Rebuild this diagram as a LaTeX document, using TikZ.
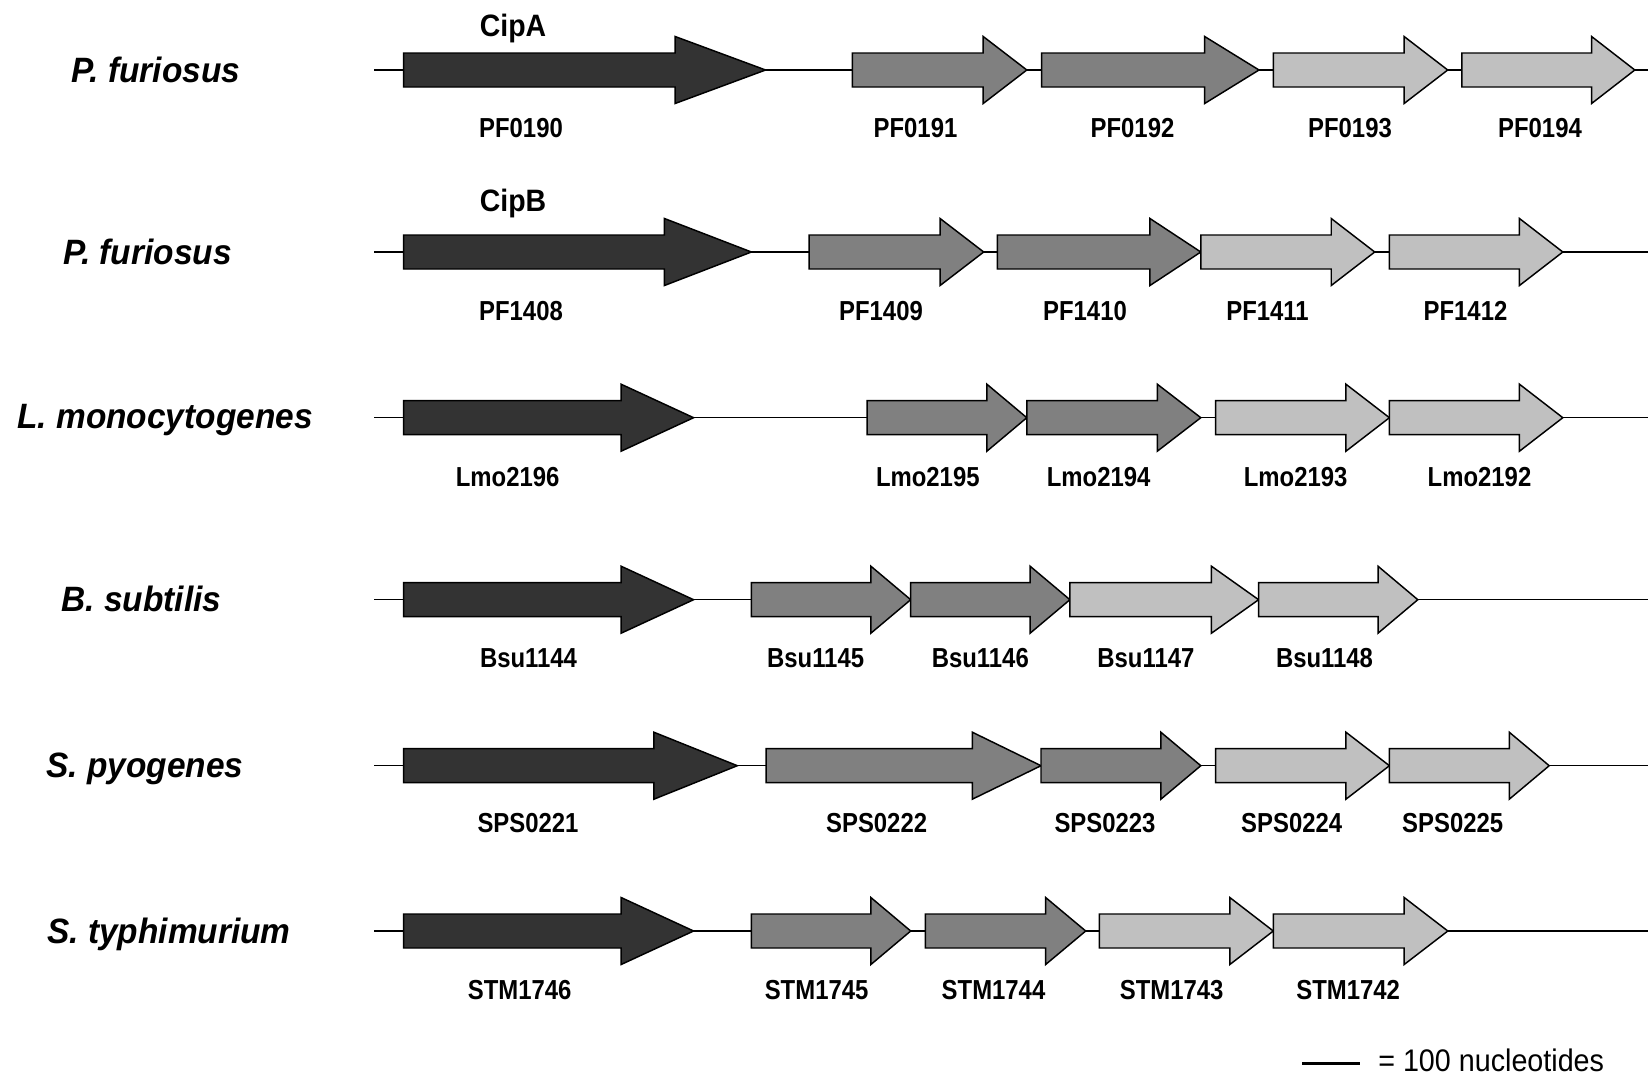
\documentclass[tikz,border=0pt]{standalone}
\usepackage{fontspec}
\setmainfont{Liberation Sans}
\newfontfamily\genefont{Liberation Sans}[FakeStretch=0.87]
\newfontfamily\cipfont{Liberation Sans}[FakeStretch=0.92]
\newfontfamily\specfont{Liberation Sans}[FakeStretch=0.95]
\newfontfamily\scalefont{Liberation Sans}[FakeStretch=0.92]
\definecolor{gdark}{HTML}{333333}
\definecolor{gmid}{HTML}{808080}
\definecolor{glight}{HTML}{C0C0C0}
\newcommand{\genearr}[4]{%
  \pgfmathsetmacro\hb{#2-0.25*(#2-#1)}%
  \draw[arrowbox,fill=#4] (#1,#3-17) -- (\hb,#3-17) -- (\hb,#3-33.5) -- (#2,#3)
    -- (\hb,#3+33.5) -- (\hb,#3+17) -- (#1,#3+17) -- cycle;}
\begin{document}
\begin{tikzpicture}[x=0.75pt,y=-0.75pt,
  axisline/.style={line width=1.1pt,black},
  arrowbox/.style={line width=1.1pt,draw=black,line join=miter},
  genelabel/.style={font=\genefont\fontsize{20.6}{24}\selectfont\bfseries,inner sep=0pt,anchor=base},
  ciplabel/.style={font=\cipfont\fontsize{23.2}{26}\selectfont\bfseries,inner sep=0pt,anchor=base},
  species/.style={font=\specfont\fontsize{26.4}{30}\selectfont\bfseries\itshape,inner sep=0pt,anchor=base},
  scaletext/.style={font=\scalefont\fontsize{23.4}{27}\selectfont,inner sep=0pt,anchor=base west}]
\useasboundingbox[fill=white] (0,0) rectangle (1648,1078);

% axis lines
\foreach \yy [count=\i] in {70,252,417.7,599.7,765.7,931}{
  \coordinate (La\i) at (374,\yy);
  \coordinate (Lb\i) at (1648,\yy);
  \draw[axisline] (La\i) -- (Lb\i);
}

% Row 1
\genearr{403.6}{765.6}{70}{gdark}
\genearr{852.4}{1026.8}{70}{gmid}
\genearr{1041.6}{1259}{70}{gmid}
\genearr{1273.3}{1447.7}{70}{glight}
\genearr{1461.9}{1634.8}{70}{glight}
\node[species] (sp1) at (156,82) {P. furiosus};
\node[ciplabel] (cipa) at (513,36) {CipA};
\node[genelabel] (g190) at (521,137.3) {PF0190};
\node[genelabel] (g191) at (915.5,137.3) {PF0191};
\node[genelabel] (g192) at (1132.5,137.3) {PF0192};
\node[genelabel] (g193) at (1350,137.3) {PF0193};
\node[genelabel] (g194) at (1540,137.3) {PF0194};

% Row 2
\genearr{403.6}{751.4}{252}{gdark}
\genearr{809.2}{983.7}{252}{gmid}
\genearr{997.4}{1200.8}{252}{gmid}
\genearr{1200.8}{1374.7}{252}{glight}
\genearr{1389.4}{1562.8}{252}{glight}
\node[species] (sp2) at (147.5,264) {P. furiosus};
\node[ciplabel] (cipb) at (513,211.5) {CipB};
\node[genelabel] (g1408) at (521,320) {PF1408};
\node[genelabel] (g1409) at (881,320) {PF1409};
\node[genelabel] (g1410) at (1085,320) {PF1410};
\node[genelabel] (g1411) at (1267.5,320) {PF1411};
\node[genelabel] (g1412) at (1465.5,320) {PF1412};

% Row 3
\genearr{403.6}{693.6}{417.7}{gdark}
\genearr{867.1}{1026.8}{417.7}{gmid}
\genearr{1026.8}{1200.8}{417.7}{gmid}
\genearr{1215.5}{1389.4}{417.7}{glight}
\genearr{1389.4}{1562.8}{417.7}{glight}
\node[species] (sp3) at (165,428) {L. monocytogenes};
\node[genelabel] (l2196) at (507.6,486.5) {Lmo2196};
\node[genelabel] (l2195) at (927.8,486.5) {Lmo2195};
\node[genelabel] (l2194) at (1098.6,486.5) {Lmo2194};
\node[genelabel] (l2193) at (1295.6,486.5) {Lmo2193};
\node[genelabel] (l2192) at (1479.5,486.5) {Lmo2192};

% Row 4
\genearr{403.6}{693.6}{599.7}{gdark}
\genearr{751.4}{910.7}{599.7}{gmid}
\genearr{910.7}{1069.9}{599.7}{gmid}
\genearr{1069.9}{1258.6}{599.7}{glight}
\genearr{1258.6}{1417.8}{599.7}{glight}
\node[species] (sp4) at (141.5,611.5) {B. subtilis};
\node[genelabel] (b1144) at (528.5,667.7) {Bsu1144};
\node[genelabel] (b1145) at (815.6,667.7) {Bsu1145};
\node[genelabel] (b1146) at (980.3,667.7) {Bsu1146};
\node[genelabel] (b1147) at (1145.9,667.7) {Bsu1147};
\node[genelabel] (b1148) at (1324.5,667.7) {Bsu1148};

% Row 5
\genearr{403.6}{737.3}{765.7}{gdark}
\genearr{766.2}{1041}{765.7}{gmid}
\genearr{1041}{1200.8}{765.7}{gmid}
\genearr{1215.5}{1389.4}{765.7}{glight}
\genearr{1389.4}{1549.2}{765.7}{glight}
\node[species] (sp5) at (145,777.5) {S. pyogenes};
\node[genelabel] (s221) at (528,832.5) {SPS0221};
\node[genelabel] (s222) at (876.6,832.5) {SPS0222};
\node[genelabel] (s223) at (1105,832.5) {SPS0223};
\node[genelabel] (s224) at (1291.7,832.5) {SPS0224};
\node[genelabel] (s225) at (1452.7,832.5) {SPS0225};

% Row 6
\genearr{403.6}{693.6}{931}{gdark}
\genearr{751.4}{910.7}{931}{gmid}
\genearr{925.4}{1085.7}{931}{gmid}
\genearr{1099.4}{1273.3}{931}{glight}
\genearr{1273.3}{1447.8}{931}{glight}
\node[species] (sp6) at (169,943) {S. typhimurium};
\node[genelabel] (t1746) at (519.7,999.3) {STM1746};
\node[genelabel] (t1745) at (816.6,999.3) {STM1745};
\node[genelabel] (t1744) at (993.5,999.3) {STM1744};
\node[genelabel] (t1743) at (1171.6,999.3) {STM1743};
\node[genelabel] (t1742) at (1348.2,999.3) {STM1742};

% scale bar
\coordinate (sbA) at (1302,1063.3);
\coordinate (sbB) at (1360,1063.3);
\draw[line width=2.3pt] (sbA) -- (sbB);
\node[scaletext] (sbt) at (1378,1071) {= 100 nucleotides};
\end{tikzpicture}
\end{document}
